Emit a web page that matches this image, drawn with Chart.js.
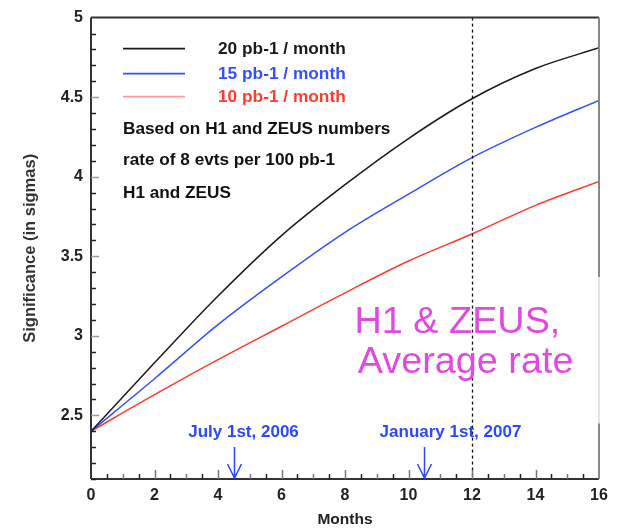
<!DOCTYPE html>
<html>
<head>
<meta charset="utf-8">
<script src="https://cdn.jsdelivr.net/npm/chart.js@4.4.1/dist/chart.umd.min.js"></script>
<style>
  html, body { margin: 0; padding: 0; background: #fff; }
  #wrap { width: 620px; height: 529px; position: relative; }
</style>
</head>
<body>
<div id="wrap"><canvas id="c" width="620" height="529"></canvas></div>
<script>
// Running time in months and expected significance for three luminosity rates
const months = [0, 2, 4, 6, 8, 10, 12, 14, 16];
const sig20 = [2.40, 2.83, 3.25, 3.63, 3.95, 4.24, 4.49, 4.68, 4.81];
const sig15 = [2.40, 2.73, 3.07, 3.37, 3.65, 3.89, 4.12, 4.31, 4.48];
const sig10 = [2.40, 2.63, 2.85, 3.06, 3.27, 3.47, 3.64, 3.82, 3.97];
const seriesLabels = ['20 pb-1 / month', '15 pb-1 / month', '10 pb-1 / month'];
const seriesColors = ['#1a1a1a', '#3350ff', '#ff3b2b'];
const legendSwatch = ['#1a1a1a', '#3350ff', '#ff9a9a'];
const notes = ['Based on H1 and ZEUS numbers', 'rate of 8 evts per 100 pb-1', 'H1 and ZEUS'];
const dateMonths = [4.5, 10.5];
const dateLabels = ['July 1st, 2006', 'January 1st, 2007'];
const oneYear = 12;
const yLabelled = [2.5, 3, 3.5, 4, 4.5, 5];
const banner = ['H1 & ZEUS,', 'Average rate'];

const FONT = "'Liberation Sans', Arial, sans-serif";

const toPoints = ys => months.map((m, i) => ({ x: m, y: ys[i] }));

const overlay = {
  id: 'overlay',
  afterDatasetsDraw(chart) {
    const ctx = chart.ctx;
    const xs = chart.scales.x, ys = chart.scales.y;
    const a = chart.chartArea;
    const X = v => xs.getPixelForValue(v);
    const Y = v => ys.getPixelForValue(v);
    ctx.save();

    // pasted white label box over the lower right part of the plot
    ctx.fillStyle = '#ffffff';
    ctx.fillRect(X(7.25), Y(3.17), a.right - 1 - X(7.25), Y(2.45) - Y(3.17));

    // vertical dotted marker at one year
    ctx.strokeStyle = '#111';
    ctx.lineWidth = 1.3;
    ctx.setLineDash([3, 3]);
    ctx.beginPath();
    ctx.moveTo(Math.round(X(oneYear)) + 0.5, a.top);
    ctx.lineTo(Math.round(X(oneYear)) + 0.5, a.bottom);
    ctx.stroke();
    ctx.setLineDash([]);

    // frame
    ctx.lineWidth = 2;
    ctx.strokeStyle = '#333';
    ctx.beginPath();
    ctx.moveTo(a.left, a.top); ctx.lineTo(a.right, a.top);
    ctx.moveTo(a.left, a.top); ctx.lineTo(a.left, a.bottom);
    ctx.moveTo(a.left, a.bottom); ctx.lineTo(a.right, a.bottom);
    ctx.stroke();
    ctx.strokeStyle = '#888';
    ctx.beginPath();
    ctx.moveTo(a.right, a.top); ctx.lineTo(a.right, Y(3.37));
    ctx.moveTo(a.right, Y(2.45)); ctx.lineTo(a.right, a.bottom);
    ctx.stroke();
    ctx.strokeStyle = '#e4e4e4';
    ctx.beginPath();
    ctx.moveTo(a.right, Y(3.37)); ctx.lineTo(a.right, Y(2.45));
    ctx.stroke();

    // inward tick marks
    ctx.lineWidth = 1.5;
    for (let k = 21; k < 50; k++) {
      const v = k / 10;
      const major = k % 5 === 0;
      const py = Math.round(Y(v)) + 0.5;
      ctx.strokeStyle = major ? '#999' : '#222';
      ctx.beginPath();
      ctx.moveTo(a.left, py);
      ctx.lineTo(a.left + (major ? 8 : 5), py);
      ctx.stroke();
    }
    for (let k = 1; k < 32; k++) {
      const m = k / 2;
      const major = k % 4 === 0;
      const px = Math.round(X(m)) + 0.5;
      ctx.strokeStyle = (k % 2 === 0) ? '#777' : '#222';
      ctx.beginPath();
      ctx.moveTo(px, a.bottom);
      ctx.lineTo(px, a.bottom - (major ? 9 : 5));
      ctx.stroke();
    }

    // legend
    ctx.textBaseline = 'middle';
    ctx.textAlign = 'left';
    ctx.font = 'bold 17.3px ' + FONT;
    const rows = [31, 56, 79];
    seriesLabels.forEach((t, i) => {
      const yy = a.top + rows[i];
      ctx.strokeStyle = legendSwatch[i];
      ctx.lineWidth = 1.6;
      ctx.beginPath();
      ctx.moveTo(a.left + 32, yy);
      ctx.lineTo(a.left + 94, yy);
      ctx.stroke();
      ctx.fillStyle = seriesColors[i];
      ctx.fillText(t, a.left + 127, yy + 1);
    });
    ctx.fillStyle = '#111';
    ctx.font = 'bold 17.2px ' + FONT;
    const noteRows = [112, 143, 176];
    notes.forEach((t, i) => ctx.fillText(t, a.left + 32, a.top + noteRows[i]));

    // date arrows on the time axis
    ctx.strokeStyle = '#2a48ff';
    ctx.fillStyle = '#2a48ff';
    ctx.lineWidth = 1.5;
    ctx.font = 'bold 17px ' + FONT;
    ctx.textAlign = 'center';
    const labelShift = [9, 26];
    dateMonths.forEach((m, i) => {
      const px = Math.round(X(m)) + 0.5;
      const tip = a.bottom - 1;
      ctx.beginPath();
      ctx.moveTo(px, tip - 31);
      ctx.lineTo(px, tip);
      ctx.moveTo(px - 7, tip - 14);
      ctx.lineTo(px, tip);
      ctx.lineTo(px + 7, tip - 14);
      ctx.stroke();
      ctx.fillText(dateLabels[i], px + labelShift[i], tip - 46);
    });

    // hand-written style banner
    ctx.fillStyle = '#e04ae0';
    ctx.textAlign = 'left';
    ctx.textBaseline = 'alphabetic';
    ctx.font = '40px ' + FONT;
    const w = ctx.measureText(banner[1]).width;
    const size = 40 * 216 / w;
    ctx.font = size.toFixed(1) + 'px ' + FONT;
    ctx.fillText(banner[0], X(8.3), Y(3.02));
    ctx.fillText(banner[1], X(8.4), Y(2.765));

    ctx.restore();
  }
};

new Chart(document.getElementById('c'), {
  type: 'line',
  data: {
    datasets: [
      { label: seriesLabels[0], data: toPoints(sig20), borderColor: seriesColors[0] },
      { label: seriesLabels[1], data: toPoints(sig15), borderColor: seriesColors[1] },
      { label: seriesLabels[2], data: toPoints(sig10), borderColor: seriesColors[2] }
    ]
  },
  options: {
    responsive: false,
    animation: false,
    layout: { padding: { top: 15, right: 21, left: 0, bottom: 0 } },
    elements: {
      point: { radius: 0 },
      line: { borderWidth: 1.5, cubicInterpolationMode: 'monotone', fill: false }
    },
    plugins: { legend: { display: false }, tooltip: { enabled: false } },
    scales: {
      x: {
        type: 'linear', min: 0, max: 16,
        grid: { display: false, drawTicks: false },
        border: { display: false },
        ticks: { stepSize: 2, padding: 7, color: '#222', font: { family: FONT, size: 16, weight: 'bold' } },
        title: { display: true, text: 'Months', color: '#222', padding: { top: 10, bottom: 0 }, font: { family: FONT, size: 15.5, weight: 'bold' } },
        afterFit(s) { s.height = 50; }
      },
      y: {
        min: 2.1, max: 5,
        grid: { display: false, drawTicks: false },
        border: { display: false },
        afterBuildTicks(s) { s.ticks = yLabelled.map(v => ({ value: v })); },
        ticks: {
          padding: 8, color: '#222',
          font: { family: FONT, size: 16, weight: 'bold' },
          callback: v => String(v)
        },
        title: { display: true, text: 'Significance (in sigmas)', color: '#333', padding: { top: 21, bottom: 0 }, font: { family: FONT, size: 16.5, weight: 'bold' } },
        afterFit(s) { s.width = 91; }
      }
    }
  },
  plugins: [overlay]
});
</script>
</body>
</html>
